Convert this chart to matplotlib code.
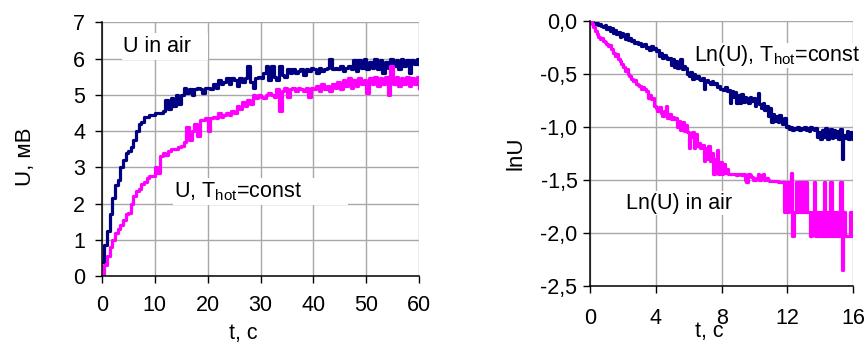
import numpy as np
import matplotlib
matplotlib.use("Agg")
from matplotlib import pyplot as plt
from matplotlib.patches import Rectangle

plt.rcParams['font.family'] = ['Liberation Sans', 'DejaVu Sans']
plt.rcParams['mathtext.fontset'] = 'custom'
plt.rcParams['mathtext.rm'] = 'Liberation Sans'

NAVY = '#000080'
PINK = '#ff00ff'

# left panel: U(t), sampled every 0.5 s from 0 to 60 s
dt_left = 0.5
u_air = [
    0.40, 0.85, 1.25, 1.70, 2.15, 2.50, 2.65, 3.00, 3.20, 3.40,
    3.45, 3.55, 3.75, 4.00, 4.20, 4.25, 4.40, 4.40, 4.45, 4.45,
    4.50, 4.50, 4.50, 4.55, 4.85, 4.60, 4.90, 4.70, 5.00, 4.75,
    5.00, 5.20, 5.05, 5.15, 5.00, 5.15, 5.20, 5.15, 5.05, 5.20,
    5.20, 5.15, 5.30, 5.20, 5.40, 5.30, 5.35, 5.45, 5.30, 5.45,
    5.40, 5.25, 5.45, 5.35, 5.45, 5.80, 5.35, 5.20, 5.45, 5.50,
    5.45, 5.60, 5.80, 5.40, 5.80, 5.50, 5.40, 5.80, 5.55, 5.50,
    5.70, 5.60, 5.70, 5.60, 5.65, 5.70, 5.55, 5.70, 5.65, 5.75,
    5.70, 5.60, 5.75, 5.65, 5.70, 5.75, 6.00, 5.70, 5.75, 5.70,
    5.80, 5.65, 5.75, 5.80, 5.70, 5.95, 5.65, 5.95, 5.75, 6.00,
    5.70, 5.90, 5.75, 6.00, 5.70, 5.95, 5.60, 5.90, 5.75, 6.00,
    5.80, 5.95, 5.70, 6.00, 5.80, 5.95, 5.60, 5.95, 5.85, 6.00,
    5.85,
]
u_const = [
    0.00, 0.30, 0.55, 0.80, 1.00, 1.20, 1.30, 1.40, 1.55, 1.70,
    1.75, 2.00, 2.20, 2.35, 2.40, 2.55, 2.60, 2.70, 2.75, 2.75,
    3.00, 2.85, 3.30, 3.40, 3.35, 3.45, 3.50, 3.50, 3.50, 3.55,
    3.60, 3.70, 4.10, 3.75, 4.00, 4.20, 3.85, 4.30, 4.30, 4.35,
    4.00, 4.35, 4.40, 4.35, 4.50, 4.40, 4.45, 4.50, 4.45, 4.55,
    4.50, 4.70, 4.60, 4.80, 4.70, 4.85, 4.75, 5.00, 4.90, 5.00,
    4.95, 4.90, 5.00, 5.05, 5.00, 4.95, 5.15, 4.55, 5.10, 5.20,
    4.95, 5.15, 5.20, 5.10, 5.20, 5.15, 5.10, 5.20, 4.95, 5.20,
    5.15, 5.25, 5.10, 5.30, 5.15, 5.25, 5.10, 5.30, 5.20, 5.35,
    5.15, 5.40, 5.25, 5.45, 5.20, 5.40, 5.25, 5.45, 5.30, 5.40,
    5.05, 5.45, 5.30, 5.50, 5.25, 5.45, 5.30, 5.50, 5.00, 5.80,
    5.30, 5.50, 5.25, 5.45, 5.30, 5.50, 5.25, 5.45, 5.30, 5.50,
    5.20,
]

# right panel: ln U(t), sampled every 0.1 s from 0 to 16 s
dt_right = 0.1
ln_const = [
    0.00, -0.01, -0.02, -0.03, -0.02, -0.04, -0.03, -0.05, -0.06, -0.04,
    -0.08, -0.06, -0.10, -0.07, -0.12, -0.09, -0.13, -0.11, -0.15, -0.12,
    -0.14, -0.17, -0.13, -0.18, -0.16, -0.19, -0.18, -0.21, -0.20, -0.22,
    -0.21, -0.24, -0.23, -0.22, -0.26, -0.25, -0.28, -0.24, -0.27, -0.26,
    -0.29, -0.28, -0.33, -0.30, -0.35, -0.32, -0.34, -0.36, -0.35, -0.42,
    -0.36, -0.44, -0.38, -0.45, -0.40, -0.36, -0.46, -0.43, -0.45, -0.50,
    -0.52, -0.48, -0.55, -0.50, -0.54, -0.52, -0.55, -0.56, -0.54, -0.64,
    -0.57, -0.56, -0.58, -0.60, -0.57, -0.60, -0.59, -0.63, -0.62, -0.64,
    -0.64, -0.65, -0.63, -0.66, -0.65, -0.78, -0.66, -0.72, -0.67, -0.78,
    -0.70, -0.78, -0.69, -0.77, -0.72, -0.73, -0.78, -0.72, -0.76, -0.73,
    -0.80, -0.74, -0.68, -0.79, -0.82, -0.78, -0.84, -0.80, -0.90, -0.82,
    -0.96, -0.88, -0.95, -0.90, -0.96, -0.89, -0.93, -0.97, -0.92, -1.00,
    -0.99, -1.02, -1.00, -1.03, -1.01, -1.02, -1.00, -1.03, -1.01, -1.02,
    -1.00, -1.03, -1.01, -1.04, -1.00, -1.02, -1.03, -1.01, -1.10, -1.05,
    -1.12, -1.03, -1.10, -1.01, -1.12, -1.05, -1.02, -1.11, -1.03, -1.10,
    -1.04, -1.12, -1.02, -1.30, -1.08, -1.11, -1.04, -1.12, -1.05, -1.11,
    -1.12,
]
ln_air = [
    0.00, -0.03, -0.06, -0.10, -0.13, -0.15, -0.17, -0.16, -0.19, -0.20,
    -0.22, -0.24, -0.23, -0.27, -0.30, -0.33, -0.31, -0.36, -0.38, -0.41,
    -0.44, -0.47, -0.46, -0.50, -0.52, -0.55, -0.57, -0.56, -0.60, -0.61,
    -0.62, -0.64, -0.63, -0.64, -0.66, -0.73, -0.70, -0.74, -0.73, -0.80,
    -0.82, -0.85, -0.81, -0.87, -0.90, -0.85, -0.80, -0.92, -0.88, -0.93,
    -0.91, -0.93, -0.92, -1.00, -0.95, -1.03, -0.96, -1.04, -0.98, -1.05,
    -1.20, -1.10, -1.05, -1.20, -1.07, -1.18, -1.15, -1.20, -1.17, -1.32,
    -1.20, -1.30, -1.18, -1.32, -1.25, -1.45, -1.30, -1.22, -1.45, -1.33,
    -1.45, -1.35, -1.44, -1.40, -1.45, -1.45, -1.45, -1.45, -1.45, -1.46,
    -1.45, -1.45, -1.46, -1.45, -1.50, -1.52, -1.45, -1.46, -1.47, -1.50,
    -1.50, -1.48, -1.45, -1.50, -1.46, -1.45, -1.50, -1.48, -1.50, -1.51,
    -1.51, -1.51, -1.51, -1.51, -1.52, -1.52, -1.52, -1.52, -1.80, -1.52,
    -1.80, -1.52, -1.44, -2.03, -1.80, -1.52, -1.80, -1.52, -1.80, -1.52,
    -1.80, -1.52, -1.80, -1.80, -2.03, -1.80, -1.52, -2.03, -1.80, -2.03,
    -1.80, -2.03, -1.52, -2.03, -1.80, -2.03, -1.52, -2.03, -1.80, -2.03,
    -1.80, -2.03, -1.52, -2.35, -1.80, -2.03, -2.03, -2.03, -1.80, -2.03,
    -1.80,
]

left_xticks = [0, 10, 20, 30, 40, 50, 60]
left_yticks = [0, 1, 2, 3, 4, 5, 6, 7]
right_xticks = [0, 4, 8, 12, 16]
right_yticks = [0.0, -0.5, -1.0, -1.5, -2.0, -2.5]
right_ylabels = ['0,0', '-0,5', '-1,0', '-1,5', '-2,0', '-2,5']

t_left = np.arange(len(u_air)) * dt_left
t_right = np.arange(len(ln_air)) * dt_right

fig = plt.figure(figsize=(8.68, 3.43), dpi=100)
ax1 = fig.add_axes([0.1172, 0.1953, 0.3659, 0.7397])
ax2 = fig.add_axes([0.6797, 0.1670, 0.3033, 0.7726])


def style(ax):
    ax.set_axisbelow(True)
    ax.grid(True, color='#a8a8a8', lw=1.0)
    for s in ['top', 'right']:
        ax.spines[s].set_visible(False)
    for s in ['left', 'bottom']:
        ax.spines[s].set_color('black')
        ax.spines[s].set_linewidth(1.1)
    ax.tick_params(direction='out', length=5, width=1, labelsize=15.5,
                   color='black')


# left panel
ax1.plot(t_left, u_air, color=NAVY, lw=2.3, drawstyle='steps-post')
ax1.plot(t_left, u_const, color=PINK, lw=2.3, drawstyle='steps-post')
ax1.set_xlim(0, 60)
ax1.set_ylim(0, 7)
ax1.set_xticks(left_xticks)
ax1.set_yticks(left_yticks)
style(ax1)
ax1.tick_params(axis='x', pad=9)
ax1.tick_params(axis='y', pad=7)
ax1.add_patch(Rectangle((3.8, 5.96), 16.2, 0.74, facecolor='white',
                        edgecolor='none', zorder=1))
ax1.text(4.1, 6.33, 'U in air', fontsize=15.5, va='center', zorder=4)
ax1.add_patch(Rectangle((13.4, 1.96), 33.1, 0.74, facecolor='white',
                        edgecolor='none', zorder=1))
ax1.text(13.7, 2.33, r'U, T$_{\mathrm{hot}}$=const', fontsize=15.5,
         va='center', zorder=4)

# right panel
ax2.plot(t_right, ln_const, color=NAVY, lw=2.3, drawstyle='steps-post')
ax2.plot(t_right, ln_air, color=PINK, lw=2.3, drawstyle='steps-post')
ax2.set_xlim(0, 16)
ax2.set_ylim(-2.5, 0)
ax2.set_xticks(right_xticks)
ax2.set_yticks(right_yticks)
ax2.set_yticklabels(right_ylabels)
style(ax2)
ax2.tick_params(axis='x', pad=11)
ax2.tick_params(axis='y', pad=4)
ax2.add_patch(Rectangle((6.1, -0.45), 9.9, 0.24, facecolor='white',
                        edgecolor='none', zorder=1))
ax2.text(6.3, -0.33, r'Ln(U), T$_{\mathrm{hot}}$=const', fontsize=15.5,
         va='center', zorder=4)
ax2.text(2.2, -1.72, 'Ln(U) in air', fontsize=15.5, va='center', zorder=4,
         bbox=dict(facecolor='white', edgecolor='none', pad=1))

fig.text(243 / 868, 1 - 333 / 343, 't, c', fontsize=15.5, ha='center',
         va='center')
fig.text(25 / 868, 1 - 157 / 343, 'U, мВ', fontsize=16, ha='center',
         va='center', rotation=90)
fig.text(709 / 868, 1 - 332 / 343, 't, c', fontsize=15.5, ha='center',
         va='center')
fig.text(516 / 868, 1 - 153 / 343, 'lnU', fontsize=16, ha='center',
         va='center', rotation=90)

fig.savefig('out.png', dpi=100)
